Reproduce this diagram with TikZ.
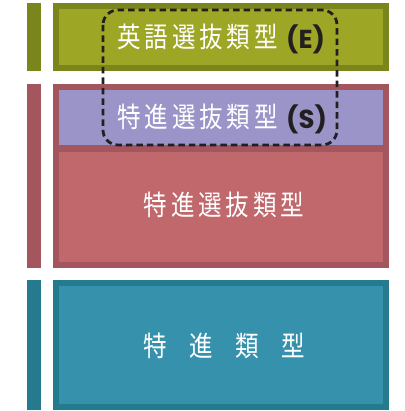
\documentclass[tikz,border=0pt]{standalone}
\usepackage{fontspec}
\newfontfamily\cjk[FakeStretch=0.84]{Noto Sans CJK JP}
\newfontfamily\latb{Poppins}
\definecolor{olivedk}{HTML}{7A861C}
\definecolor{olivelt}{HTML}{9EA626}
\definecolor{reddk}{HTML}{A4565E}
\definecolor{redlt}{HTML}{C0686C}
\definecolor{purp}{HTML}{9A94C8}
\definecolor{tealdk}{HTML}{267A8E}
\definecolor{teallt}{HTML}{3692AC}
\definecolor{inkdk}{HTML}{231F20}
\begin{document}
\begin{tikzpicture}[x=1pt,y=-1pt,
  lab/.style={text=white,inner sep=0pt,font=\cjk\fontsize{28}{30}\selectfont},
  tag/.style={text=inkdk,inner sep=0pt,font=\latb\bfseries\fontsize{26}{28}\selectfont},
  dashbox/.style={draw=inkdk,line width=2.8pt,dash pattern=on 6.5pt off 4pt,rounded corners=15pt}]
\useasboundingbox (0,0) rectangle (404,411);
% left bars
\fill[olivedk] (27,3) rectangle (41,71);
\fill[reddk] (27,84) rectangle (41,268);
\fill[tealdk] (27,280) rectangle (41,410);
% boxes
\fill[olivedk] (53,3) rectangle (389,71);
\fill[olivelt] (59,9) rectangle (383,65);
\fill[reddk] (53,84) rectangle (389,268);
\fill[purp] (59,90) rectangle (383,145);
\fill[redlt] (59,152) rectangle (383,262);
\fill[tealdk] (53,280) rectangle (389,410);
\fill[teallt] (59,286) rectangle (383,404);
% texts
\node[lab,anchor=west] (e) at (117,37) {\addfontfeature{LetterSpace=14}英語選抜類型};
\node[tag,anchor=west] (etag) at (286,39) {(E)};
\node[lab,anchor=west] (s) at (117,117) {\addfontfeature{LetterSpace=14}特進選抜類型};
\node[tag,anchor=west] (stag) at (286,119) {(S)};
\node[lab] (t) at (224,205) {\addfontfeature{LetterSpace=14}特進選抜類型};
\node[lab] (u) at (224,346) {\addfontfeature{LetterSpace=80}特進類型\hspace{-22pt}};
% dashed
\draw[dashbox] (103,10) rectangle (337,145);
\end{tikzpicture}
\end{document}
